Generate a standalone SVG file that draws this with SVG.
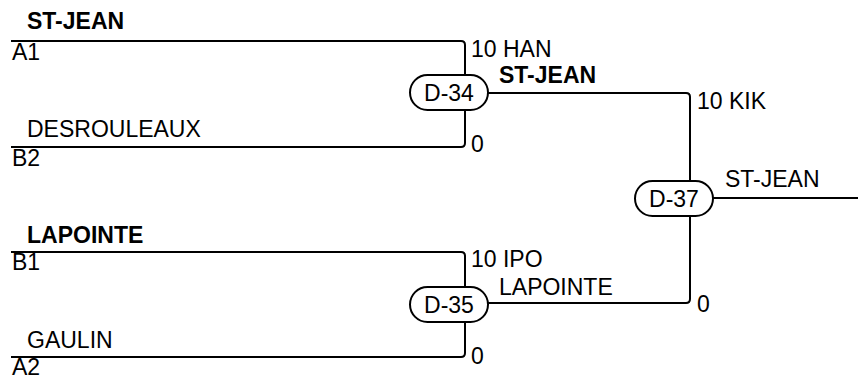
<svg xmlns="http://www.w3.org/2000/svg" width="858" height="379" viewBox="0 0 858 379">
<style>
text{font-family:"Liberation Sans",Arial,sans-serif;font-size:23px;fill:#000}
.b{font-weight:bold}
.m{text-anchor:middle}
.w{fill:none;stroke:#000;stroke-width:2}
.n{fill:#fff;stroke:#000;stroke-width:2}
</style>
<rect width="858" height="379" fill="#fff"/>
<g id="connectors">
<path class="w" d="M11,41 H461 Q465,41 465,45 V143 Q465,147 461,147 H11"/>
<path class="w" d="M11,252 H461 Q465,252 465,256 V353 Q465,357 461,357 H11"/>
<path class="w" d="M488,93 H686 Q690,93 690,97 V299 Q690,303 686,303 H488"/>
<path class="w" d="M713,198 H858"/>
</g>
<g id="labels">
<text class="b" x="27" y="29">ST-JEAN</text>
<text x="12" y="60">A1</text>
<text x="27" y="137">DESROULEAUX</text>
<text x="12" y="166">B2</text>
<text class="b" x="27" y="243">LAPOINTE</text>
<text x="12" y="270">B1</text>
<text x="27" y="348">GAULIN</text>
<text x="12" y="375">A2</text>
<text x="471" y="57">10 HAN</text>
<text class="b" x="499" y="83">ST-JEAN</text>
<text x="471" y="152">0</text>
<text x="697" y="109">10 KIK</text>
<text x="725" y="187">ST-JEAN</text>
<text x="471" y="267">10 IPO</text>
<text x="499" y="295">LAPOINTE</text>
<text x="471" y="364">0</text>
<text x="697" y="312">0</text>
</g>
<g id="D-34">
<rect class="n" x="410" y="75" width="78" height="35" rx="17.5"/>
<text class="m" x="449" y="101">D-34</text>
</g>
<g id="D-35">
<rect class="n" x="410" y="287" width="78" height="35" rx="17.5"/>
<text class="m" x="449" y="313">D-35</text>
</g>
<g id="D-37">
<rect class="n" x="635" y="181" width="78" height="35" rx="17.5"/>
<text class="m" x="674" y="207">D-37</text>
</g>
</svg>
